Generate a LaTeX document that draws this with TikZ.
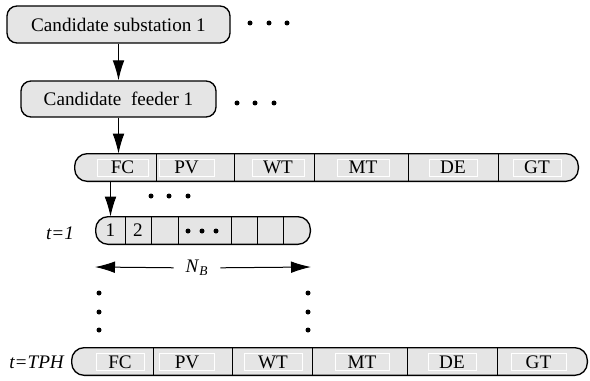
\documentclass[tikz,border=0pt]{standalone}
\usepackage{fontspec}
\setmainfont{LiberationSerif}[Extension=.ttf, UprightFont=*-Regular, ItalicFont=*-Italic, BoldFont=*-Bold, BoldItalicFont=*-BoldItalic]
\usetikzlibrary{arrows.meta}
\def\pu{0.6pt}
\tikzset{
	box/.style={draw, line width=0.8pt, fill=gray!20, rounded corners=6pt, inner sep=0pt},
	cell/.style={inner sep=0pt, minimum height=27*\pu},
	bar/.style={draw, line width=0.8pt, fill=gray!20, rounded corners=7.5pt},
	tag/.style={draw=white, fill=gray!20, inner sep=0pt, minimum height=17*\pu},
	arr/.style={-{Latex[length=12pt,width=7pt]}, line width=0.6pt},
	dot/.style={fill=black}
}
\begin{document}
\begin{tikzpicture}[x=0.6pt, y=-0.6pt, font=\fontsize{11.5}{13}\selectfont]
	\useasboundingbox (0,0) rectangle (590,380);
	
	% candidates
	\node[box, minimum width=223*\pu, minimum height=37*\pu] (sub) at (118.5,24.5) {Candidate substation 1};
	\node[box, minimum width=195*\pu, minimum height=36*\pu] (feed) at (118.5,99) {Candidate~~feeder 1};
	\foreach \x in {250,269,287} \fill[dot] (\x,23) circle (1.5pt);
	\foreach \x in {237,255,274} \fill[dot] (\x,103) circle (1.5pt);
	
	% technologies, first row
	\foreach \name/\a/\b in {fc/75/156, pv/156/234, wt/234/314, mt/314/408, de/408/498, gt/498/578}
		\node[cell, minimum width={(\b-\a)*\pu}] (\name) at ({(\a+\b)/2},167.5) {};
	\draw[bar] (fc.north west) rectangle (gt.south east);
	\foreach \name in {fc,pv,wt,mt,de}
		\draw[line width=0.8pt] (\name.north east) -- (\name.south east);
	\node[tag, minimum width=51*\pu] (fct) at (122.5,167.5) {FC};
	\node[tag, minimum width=55*\pu] (pvt) at (186.5,167.5) {PV};
	\node[tag, minimum width=52*\pu] (wtt) at (278,167.5) {WT};
	\node[tag, minimum width=52*\pu] (mtt) at (363,167.5) {MT};
	\node[tag, minimum width=48*\pu] (det) at (453,167.5) {DE};
	\node[tag, minimum width=48*\pu] (gtt) at (537,167.5) {GT};
	
	% batteries at t=1
	\foreach \name/\a/\b in {s1/96/125, s2/125/151, s3/151/178, s4/178/231, s5/231/257, s6/257/283, s7/283/310}
		\node[cell, minimum width={(\b-\a)*\pu}] (\name) at ({(\a+\b)/2},230.5) {};
	\draw[bar] (s1.north west) rectangle (s7.south east);
	\foreach \name in {s1,s2,s3,s4,s5,s6}
		\draw[line width=0.8pt] (\name.north east) -- (\name.south east);
	\node at (s1) {1};
	\node at (s2) {2};
	\foreach \x in {188,202,216} \fill[dot] (\x,231) circle (1.5pt);
	\foreach \x in {151,169,188} \fill[dot] (\x,196) circle (1.5pt);
	\node (t1) at (60,233) {\textit{t=1}};
	
	\node[inner xsep=7pt] (nb) at (197,268) {\textit{N}\textsubscript{\textit{B}}};
	\coordinate (nbl) at (95,267);
	\coordinate (nbr) at (311,267);
	\draw[arr] (nb) -- (nbl);
	\draw[arr] (nb) -- (nbr);
	
	\foreach \y in {293,312,330} {
		\fill[dot] (99,\y) circle (1.5pt);
		\fill[dot] (308,\y) circle (1.5pt);
	}
	
	% technologies, last row
	\foreach \name/\a/\b in {fcb/72/153, pvb/153/232, wtb/232/312, mtb/312/407, deb/407/497, gtb/497/587}
		\node[cell, minimum width={(\b-\a)*\pu}] (\name) at ({(\a+\b)/2},361.5) {};
	\draw[bar] (fcb.north west) rectangle (gtb.south east);
	\foreach \name in {fcb,pvb,wtb,mtb,deb}
		\draw[line width=0.8pt] (\name.north east) -- (\name.south east);
	\node[tag, minimum width=48*\pu] (fcbt) at (120,362) {FC};
	\node[tag, minimum width=55*\pu] (pvbt) at (187,362) {PV};
	\node[tag, minimum width=58*\pu] (wtbt) at (273,362) {WT};
	\node[tag, minimum width=54*\pu] (mtbt) at (362,362) {MT};
	\node[tag, minimum width=48*\pu] (debt) at (452,362) {DE};
	\node[tag, minimum width=55*\pu] (gtbt) at (538.5,362) {GT};
	\node (tph) at (37,362) {\textit{t=TPH}};
	
	% links
	\draw[arr] (sub) -- (feed);
	\draw[arr] (feed.south) -- (feed.south |- fc.north);
	\draw[arr] (fc.south -| s1) -- (s1.north);
\end{tikzpicture}
\end{document}
